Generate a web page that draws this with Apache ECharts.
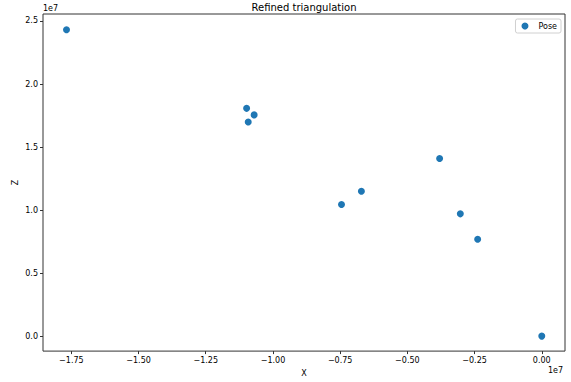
<!DOCTYPE html>
<html>
<head>
<meta charset="utf-8">
<script src="https://cdn.jsdelivr.net/npm/echarts@6/dist/echarts.min.js"></script>
<style>html,body{margin:0;padding:0;background:#fff}#c{width:571px;height:382px}</style>
</head>
<body>
<div id="c"></div>
<script>
// Values in units of 1e7 (as shown by the axis offset text)
const poseX = [-1.768, -1.098, -1.070, -1.092, -0.671, -0.745, -0.380, -0.303, -0.2385, 0.000];
const poseZ = [2.431, 1.807, 1.755, 1.699, 1.149, 1.044, 1.409, 0.970, 0.769, 0.000];
const xTicks = [-1.75, -1.50, -1.25, -1.00, -0.75, -0.50, -0.25, 0.00];
const zTicks = [0.0, 0.5, 1.0, 1.5, 2.0, 2.5];
const seriesName = 'Pose';
const titleText = 'Refined triangulation';

const FONT = 'DejaVu Sans';
const fmt = (v, d) => {
  const s = Math.abs(v).toFixed(d);
  return (v < -1e-9 ? '\u2212' : '') + s;
};

const chart = echarts.init(document.getElementById('c'), null, {renderer: 'svg'});
chart.setOption({
  animation: false,
  backgroundColor: '#fff',
  textStyle: {fontFamily: FONT},
  grid: {left: 43, right: 6, top: 14, bottom: 30, show: true, borderColor: '#333', borderWidth: 1, backgroundColor: 'transparent'},
  legend: {
    data: [{name: seriesName, icon: 'circle'}],
    right: 10, top: 19,
    itemWidth: 7, itemHeight: 7,
    padding: [3, 4, 3, 6],
    borderColor: '#d0d0d0', borderWidth: 1, borderRadius: 2,
    backgroundColor: '#fff',
    textStyle: {fontFamily: FONT, fontSize: 8, color: '#000', padding: [0, 0, 0, 5]}
  },
  xAxis: {
    type: 'value', min: -1.8554, max: 0.0864,
    name: 'X', nameLocation: 'middle', nameGap: 14,
    nameTextStyle: {fontFamily: FONT, fontSize: 8, color: '#000'},
    axisLine: {show: false, onZero: false},
    splitLine: {show: false},
    axisTick: {show: true, length: 3, inside: false, customValues: xTicks, lineStyle: {color: '#333'}},
    axisLabel: {customValues: xTicks, formatter: v => fmt(v, 2), fontFamily: FONT, fontSize: 8, color: '#000', margin: 5}
  },
  yAxis: {
    type: 'value', min: -0.119, max: 2.5555,
    name: 'Z', nameLocation: 'middle', nameGap: 24, nameMoveOverlap: false,
    nameTextStyle: {fontFamily: FONT, fontSize: 8, color: '#000'},
    axisLine: {show: false, onZero: false},
    splitLine: {show: false},
    axisTick: {show: true, length: 3, inside: false, customValues: zTicks, lineStyle: {color: '#333'}},
    axisLabel: {customValues: zTicks, formatter: v => fmt(v, 1), fontFamily: FONT, fontSize: 8, color: '#000', margin: 5}
  },
  graphic: [
    {type: 'text', x: 304, y: 2, style: {text: titleText, font: '10px "DejaVu Sans"', fill: '#000', textAlign: 'center'}},
    {type: 'text', x: 43, y: 4, style: {text: '1e7', font: '8px "DejaVu Sans"', fill: '#000'}},
    {type: 'text', x: 548, y: 366, style: {text: '1e7', font: '8px "DejaVu Sans"', fill: '#000'}}
  ],
  series: [{
    name: seriesName, type: 'scatter', symbolSize: 7,
    itemStyle: {color: '#1f77b4', opacity: 1},
    data: poseX.map((x, i) => [x, poseZ[i]])
  }]
});
</script>
</body>
</html>
